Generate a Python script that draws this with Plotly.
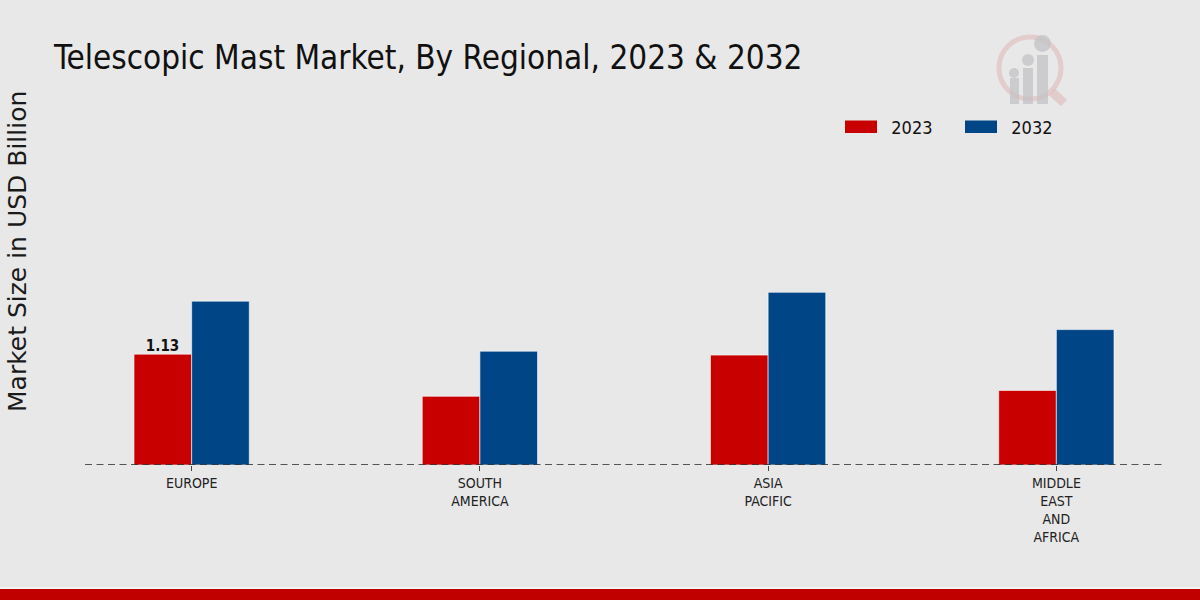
import plotly.graph_objects as go

categories = ["EUROPE", "SOUTH<br>AMERICA", "ASIA<br>PACIFIC", "MIDDLE<br>EAST<br>AND<br>AFRICA"]
values_2023 = [1.13, 0.70, 1.12, 0.76]
values_2032 = [1.67, 1.16, 1.76, 1.38]
series_names = ["2023", "2032"]
series_colors = ["#c80000", "#004687"]

FONT = "DejaVu Sans, sans-serif"

# plot area geometry in pixels (for decoration placement)
L, R, T, B = 85, 37, 100, 135
PW, PH = 1200 - L - R, 600 - T - B
XR = [-0.37, 3.37]
BARGAP = 0.6


def px(x):
    return (x - L) / PW


def py(y):
    return (600 - B - y) / PH


fig = go.Figure()
fig.add_trace(go.Bar(
    name=series_names[0], x=categories, y=values_2023,
    marker=dict(color=series_colors[0], line=dict(color="#ffffff", width=0.6)),
    showlegend=False,
))
fig.add_trace(go.Bar(
    name=series_names[1], x=categories, y=values_2032,
    marker=dict(color=series_colors[1], line=dict(color="#ffffff", width=0.6)),
    showlegend=False,
))

shapes = [
    dict(type="line", xref="paper", yref="y", x0=0, x1=1, y0=0, y1=0,
         line=dict(color="#222222", width=1.3, dash="7px,4.5px")),
    dict(type="line", xref="paper", yref="paper", x0=-0.1, x1=1.1, y0=py(588), y1=py(588),
         line=dict(color="#ffffff", width=1)),
    dict(type="rect", xref="paper", yref="paper", x0=-0.1, x1=1.1,
         y0=py(602), y1=py(589), fillcolor="#c00000", line=dict(width=0), layer="above"),
]

annotations = []
# value label on the first 2023 bar (half a bar width to the left of the category centre)
bar_px = PW / (XR[1] - XR[0]) * (1 - BARGAP) / 2
annotations.append(dict(text="<b>%.2f</b>" % values_2023[0], xref="x", yref="y",
                        x=categories[0], y=values_2023[0], xshift=-bar_px / 2,
                        xanchor="center", yanchor="bottom", showarrow=False, yshift=-3,
                        font=dict(family=FONT, size=15, color="#111111")))

# manual legend swatches
legend_x = [845, 965]
for i, name in enumerate(series_names):
    shapes.append(dict(type="rect", xref="paper", yref="paper",
                       x0=px(legend_x[i]), x1=px(legend_x[i] + 32),
                       y0=py(133), y1=py(120.5),
                       fillcolor=series_colors[i], line=dict(width=0)))
    annotations.append(dict(text=name, xref="paper", yref="paper",
                            x=px(legend_x[i] + 42), y=py(127), xanchor="left", yanchor="middle",
                            showarrow=False, font=dict(family=FONT, size=18, color="#111111")))

# faint logo
gray = "rgba(195,195,198,0.75)"
pink = "rgba(222,170,170,0.45)"
shapes += [
    dict(type="circle", xref="paper", yref="paper", x0=px(999), x1=px(1061), y0=py(99), y1=py(37),
         line=dict(color=pink, width=5)),
    dict(type="line", xref="paper", yref="paper", x0=px(1052), x1=px(1064), y0=py(92), y1=py(103),
         line=dict(color=pink, width=9)),
    dict(type="rect", xref="paper", yref="paper", x0=px(1010), x1=px(1019), y0=py(104), y1=py(78),
         fillcolor=gray, line=dict(width=0)),
    dict(type="rect", xref="paper", yref="paper", x0=px(1023), x1=px(1033), y0=py(104), y1=py(68),
         fillcolor=gray, line=dict(width=0)),
    dict(type="rect", xref="paper", yref="paper", x0=px(1037), x1=px(1048), y0=py(104), y1=py(55),
         fillcolor=gray, line=dict(width=0)),
    dict(type="circle", xref="paper", yref="paper", x0=px(1009), x1=px(1019), y0=py(78), y1=py(68),
         fillcolor=gray, line=dict(width=0)),
    dict(type="circle", xref="paper", yref="paper", x0=px(1022), x1=px(1034), y0=py(66), y1=py(54),
         fillcolor=gray, line=dict(width=0)),
    dict(type="circle", xref="paper", yref="paper", x0=px(1034), x1=px(1051), y0=py(52), y1=py(35),
         fillcolor=gray, line=dict(width=0)),
]

annotations.append(dict(text="Market Size in USD Billion", xref="paper", yref="paper",
                        x=px(18), y=py(252), xanchor="center", yanchor="middle", textangle=-90,
                        showarrow=False, font=dict(family=FONT, size=25, color="#1a1a1a")))

fig.update_layout(
    width=1200, height=600,
    barmode="group", bargap=BARGAP, bargroupgap=0,
    paper_bgcolor="#e8e8e8", plot_bgcolor="rgba(0,0,0,0)",
    margin=dict(l=L, r=R, t=T, b=B),
    title=dict(text="Telescopic Mast Market, By Regional, 2023 & 2032",
               x=54 / 1200, xanchor="left", y=1 - 57 / 600, yanchor="middle",
               font=dict(family=FONT, size=33, color="#111111")),
    xaxis=dict(range=XR, showgrid=False, zeroline=False, showline=False,
               ticks="outside", ticklen=5, tickcolor="#444444",
               tickfont=dict(family=FONT, size=14, color="#222222")),
    yaxis=dict(range=[0, 3.72], showgrid=False, zeroline=False, showticklabels=False),
    shapes=shapes,
    annotations=annotations,
    showlegend=False,
)

post = """
document.body.style.margin='0';
document.body.style.background='#e8e8e8';
document.querySelectorAll('svg text').forEach(function(t){
  if (t.textContent.indexOf('Market Size') === -1) { t.style.fontStretch = 'condensed'; }
});
"""

fig.write_html("out.html", post_script=post, config={"displayModeBar": False})
